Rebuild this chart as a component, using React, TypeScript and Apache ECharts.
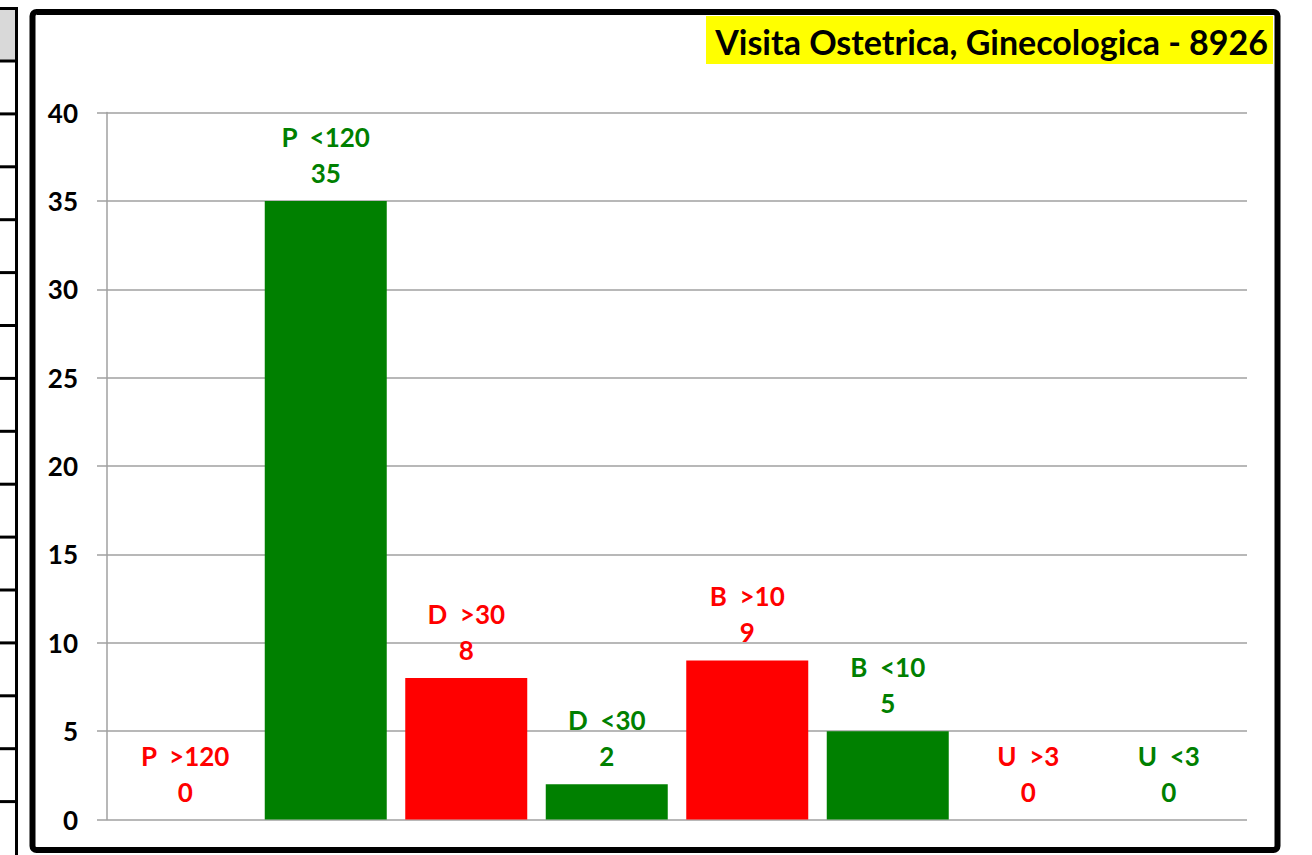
import React, { useEffect, useRef } from "react";
import * as echarts from "echarts";

const categories = ["P  >120", "P  <120", "D  >30", "D  <30", "B  >10", "B  <10", "U  >3", "U  <3"];
const values = [0, 35, 8, 2, 9, 5, 0, 0];
const yTicks = { min: 0, max: 40, interval: 5 };
const titleText = "Visita Ostetrica, Ginecologica - 8926";

const RED = "#FF0000";
const GREEN = "#008000";
const FONT = "Lato, 'Open Sans', sans-serif";

function colorFor(name: string) {
  return name.includes(">") ? RED : GREEN;
}

export default function App() {
  const ref = useRef<HTMLDivElement>(null);
  useEffect(() => {
    document.body.style.margin = "0";
    const chart = echarts.init(ref.current!, undefined, { renderer: "svg" });

    // left-side table fragment lines
    const tableLines: any[] = [];
    for (let i = 0; i < 15; i++) {
      const y = 61 + i * 52.9;
      tableLines.push({
        type: "line",
        shape: { x1: 0, y1: y, x2: 17, y2: y },
        style: { stroke: "#000", lineWidth: 3 },
        silent: true,
      });
    }

    chart.setOption({
      animation: false,
      backgroundColor: "#fff",
      grid: [
        { left: 107, right: 65, top: 112.5, bottom: 35.5, containLabel: false },
        { left: 115, right: 73, top: 112.5, bottom: 35.5, containLabel: false },
      ],
      xAxis: [
        {
          type: "category",
          gridIndex: 0,
          data: categories,
          show: false,
        },
        {
          type: "category",
          gridIndex: 1,
          data: categories,
          axisLine: { show: false },
          axisTick: { show: false },
          axisLabel: { show: false },
        },
      ],
      yAxis: [
        {
          type: "value",
          gridIndex: 0,
          min: yTicks.min,
          max: yTicks.max,
          interval: yTicks.interval,
          axisLine: { show: true, lineStyle: { color: "#a0a0a0", width: 1.5 } },
          axisTick: { show: true, length: 10, lineStyle: { color: "#a0a0a0", width: 1.5 } },
          splitLine: { show: true, lineStyle: { color: "#a0a0a0", width: 1.5 } },
          axisLabel: {
            margin: 29,
            color: "#000",
            fontFamily: FONT,
            fontWeight: "bold",
            fontSize: 26,
          },
        },
        {
          type: "value",
          gridIndex: 1,
          min: yTicks.min,
          max: yTicks.max,
          interval: yTicks.interval,
          show: false,
          splitLine: { show: false },
        },
      ],
      series: [
        {
          type: "bar",
          xAxisIndex: 1,
          yAxisIndex: 1,
          barWidth: 122,
          data: values.map((v, i) => ({
            value: v,
            itemStyle: { color: colorFor(categories[i]) },
            label: { color: colorFor(categories[i]) },
          })),
          label: {
            show: true,
            position: "top",
            distance: 10,
            formatter: (p: any) => `${p.name}\n${p.value}`,
            fontFamily: FONT,
            fontWeight: "bold",
            fontSize: 26,
            lineHeight: 36,
            align: "center",
          },
        },
      ],
      graphic: [
        // gray table cell on the left
        {
          type: "rect",
          shape: { x: 0, y: 9, width: 15, height: 51 },
          style: { fill: "#d9d9d9" },
          silent: true,
        },
        {
          type: "line",
          shape: { x1: 0, y1: 8.5, x2: 17, y2: 8.5 },
          style: { stroke: "#000", lineWidth: 3 },
          silent: true,
        },
        {
          type: "line",
          shape: { x1: 16.5, y1: 7, x2: 16.5, y2: 855 },
          style: { stroke: "#000", lineWidth: 3 },
          silent: true,
        },
        ...tableLines,
        // chart frame
        {
          type: "rect",
          shape: { x: 32.5, y: 12, width: 1245, height: 838, r: 4 },
          style: { fill: "none", stroke: "#000", lineWidth: 6 },
          silent: true,
        },
        // title box
        {
          type: "rect",
          shape: { x: 706, y: 16, width: 567, height: 48 },
          style: { fill: "#FFFF00" },
          silent: true,
        },
        {
          type: "text",
          x: 1268,
          y: 41,
          style: {
            text: titleText,
            fill: "#000",
            font: `bold 34px ${FONT}`,
            align: "right",
            verticalAlign: "middle",
          },
          silent: true,
        },
      ],
    });
    return () => chart.dispose();
  }, []);
  return <div ref={ref} style={{ width: 1312, height: 855 }} />;
}
